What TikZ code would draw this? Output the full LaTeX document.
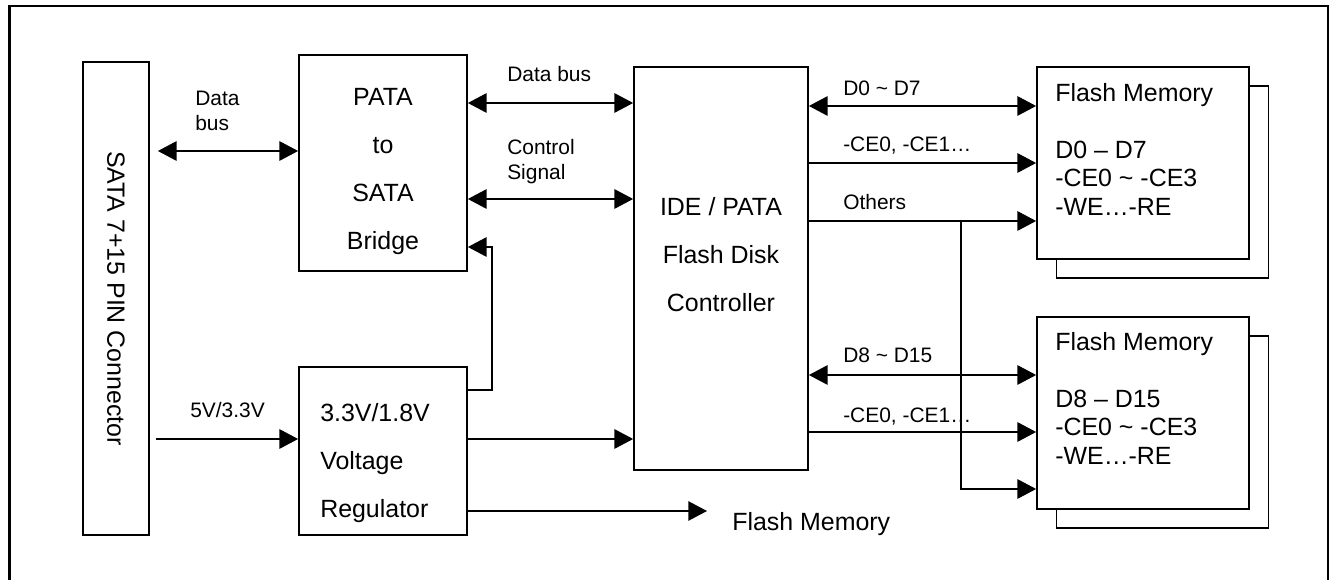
\documentclass[tikz,border=0pt]{standalone}
\usepackage{fontspec}
\setmainfont{Liberation Sans}
\usetikzlibrary{arrows.meta}
\definecolor{sdedge}{RGB}{0,0,0}
\tikzset{
  blk/.style={draw=sdedge, line width=1.3pt, fill=white, inner sep=0pt},
  bigtxt/.style={inner sep=0pt, align=center, font=\fontsize{18.7pt}{36pt}\selectfont},
  memtxt/.style={anchor=north west, inner sep=0pt, align=left,
    font=\fontsize{18.7pt}{21.4pt}\selectfont},
  lbl/.style={anchor=base west, inner sep=0pt, align=left,
    font=\fontsize{15.7pt}{18.75pt}\selectfont},
  arr/.style={-{Triangle[length=14pt,width=14.5pt]}, draw=sdedge, line width=1.3pt},
  biarr/.style={{Triangle[length=14pt,width=14.5pt]}-{Triangle[length=14pt,width=14.5pt]},
    draw=sdedge, line width=1.3pt},
  frm/.style={draw=sdedge, line width=1.8pt}
}
\begin{document}
\begin{tikzpicture}[x=0.75pt, y=-0.75pt]
  \useasboundingbox (0,0) rectangle (1334,580);
  \draw[frm] (9.5,590) -- (9.5,6) -- (1328,6) -- (1328,590);

  % blocks
  \node[blk, minimum width=49.5pt, minimum height=354.75pt] (sata) at (116,298.5) {};
  \node[bigtxt, rotate=-90] (satatxt) at (sata.center) {SATA 7+15 PIN Connector};
  \node[blk, minimum width=126pt, minimum height=162pt] (bridge) at (383,163) {};
  \node[bigtxt, anchor=north] (bridgetxt) at (383,88) {PATA\\to\\SATA\\Bridge};
  \node[blk, minimum width=126pt, minimum height=126pt] (reg) at (383,451) {};
  \node[bigtxt, anchor=north west, align=left] (regtxt) at (320,403)
    {3.3V/1.8V\\Voltage\\Regulator};
  \node[blk, minimum width=130.5pt, minimum height=302.25pt] (ctrl) at (721,268.5) {};
  \node[bigtxt, anchor=north] (ctrltxt) at (721,197) {IDE / PATA\\Flash Disk\\Controller};

  % flash memory stacks
  \node[blk, minimum width=159pt, minimum height=144pt] (mem1s) at (1162.5,182) {};
  \node[blk, minimum width=159pt, minimum height=144pt] (mem1) at (1143,163) {};
  \node[memtxt] (mem1txt) at (1055,83)
    {Flash Memory\\[21.4pt]D0 – D7\\-CE0 \textasciitilde{} -CE3\\-WE…-RE};
  \node[blk, minimum width=159pt, minimum height=144pt] (mem2s) at (1162.5,432) {};
  \node[blk, minimum width=159pt, minimum height=144pt] (mem2) at (1143,413) {};
  \node[memtxt] (mem2txt) at (1055,332)
    {Flash Memory\\[21.4pt]D8 – D15\\-CE0 \textasciitilde{} -CE3\\-WE…-RE};
  \node[bigtxt, anchor=base west, inner xsep=18.75pt] (flashout) at (707,530) {Flash Memory};

  % connectors
  \draw[biarr] ([xshift=6pt]sata.east |- 0,151) -- (bridge.west |- 0,151);
  \draw[arr] ([xshift=4.5pt]sata.east |- 0,439) -- (reg.west |- 0,439);
  \draw[biarr] (bridge.east |- 0,103) -- (ctrl.west |- 0,103);
  \draw[biarr] (bridge.east |- 0,199) -- (ctrl.west |- 0,199);
  \draw[arr] (reg.east |- 0,390) -- ++(24,0) |- (bridge.east |- 0,247);
  \draw[arr] (reg.east |- 0,439) -- (ctrl.west |- 0,439);
  \draw[arr] (reg.east |- 0,511) -- (flashout.west |- 0,511);
  \draw[biarr] (ctrl.east |- 0,106) -- (mem1.west |- 0,106);
  \draw[arr] (ctrl.east |- 0,163) -- (mem1.west |- 0,163);
  \draw[arr] (ctrl.east |- 0,221) -- (mem1.west |- 0,221);
  \coordinate (othsplit) at (961,221);
  \draw[arr] (othsplit) |- (mem2.west |- 0,489);
  \draw[biarr] (ctrl.east |- 0,375) -- (mem2.west |- 0,375);
  \draw[arr] (ctrl.east |- 0,432) -- (mem2.west |- 0,432);

  % labels
  \node[lbl, anchor=north west] (busl) at (195,91) {Data\\bus};
  \node[lbl] (pwrl) at (190,418) {5V/3.3V};
  \node[lbl] (busm) at (507,82) {Data bus};
  \node[lbl, anchor=north west] (ctlm) at (507,139) {Control\\Signal};
  \node[lbl] (d0l) at (843,96) {D0 \textasciitilde{} D7};
  \node[lbl] (ce1l) at (843,152) {-CE0, -CE1…};
  \node[lbl] (othl) at (843,210) {Others};
  \node[lbl] (d8l) at (843,363) {D8 \textasciitilde{} D15};
  \node[lbl] (ce2l) at (843,422) {-CE0, -CE1…};
\end{tikzpicture}
\end{document}
